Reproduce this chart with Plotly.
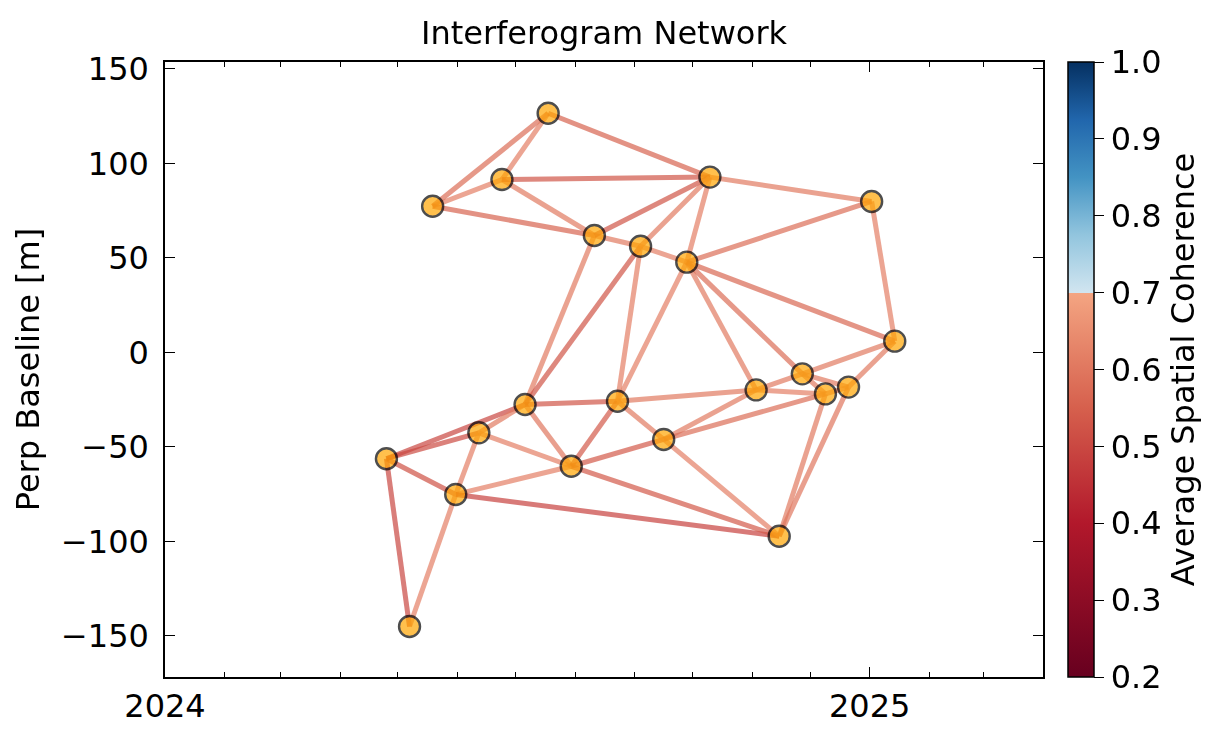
import plotly.graph_objects as go

# ---------------- data ----------------
dates = ["2024-04-25", "2024-05-07", "2024-05-19", "2024-05-31", "2024-06-12",
         "2024-06-24", "2024-07-06", "2024-07-18", "2024-07-30", "2024-08-11",
         "2024-08-23", "2024-09-04", "2024-09-16", "2024-09-28", "2024-10-10",
         "2024-11-03", "2024-11-15", "2024-11-27", "2024-12-09", "2024-12-21",
         "2025-01-02", "2025-01-14"]
pbase = [-56.2, -145.0, 77.4, -75.1, -42.5,
         91.5, -27.5, 126.6, -60.2, 61.9,
         -25.8, 56.2, -46.0, 47.8, 92.8,
         -19.8, -97.2, -11.3, -21.9, -18.3,
         79.9, 6.0]

# interferogram pairs (reference date, secondary date)
pair_ref = ["2024-04-25", "2024-04-25", "2024-04-25", "2024-04-25", "2024-05-07",
            "2024-05-19", "2024-05-19", "2024-05-19", "2024-05-31", "2024-05-31",
            "2024-05-31", "2024-06-12", "2024-06-12", "2024-06-24", "2024-06-24",
            "2024-06-24", "2024-07-06", "2024-07-06", "2024-07-06", "2024-07-06",
            "2024-07-18", "2024-07-30", "2024-07-30", "2024-07-30", "2024-08-11",
            "2024-08-11", "2024-08-23", "2024-08-23", "2024-08-23", "2024-08-23",
            "2024-09-04", "2024-09-04", "2024-09-16", "2024-09-16", "2024-09-16",
            "2024-09-28", "2024-09-28", "2024-09-28", "2024-09-28", "2024-09-28",
            "2024-10-10", "2024-11-03", "2024-11-03", "2024-11-15", "2024-11-15",
            "2024-11-27", "2024-11-27", "2024-11-27", "2024-12-09", "2024-12-21",
            "2025-01-02"]
pair_sec = ["2024-05-07", "2024-05-31", "2024-06-12", "2024-07-06", "2024-05-31",
            "2024-06-24", "2024-07-18", "2024-08-11", "2024-06-12", "2024-07-30",
            "2024-11-15", "2024-07-06", "2024-07-30", "2024-07-18", "2024-08-11",
            "2024-10-10", "2024-07-30", "2024-08-11", "2024-08-23", "2024-09-04",
            "2024-10-10", "2024-08-23", "2024-09-16", "2024-11-15", "2024-09-04",
            "2024-10-10", "2024-09-04", "2024-09-16", "2024-09-28", "2024-11-03",
            "2024-09-28", "2024-10-10", "2024-11-03", "2024-11-15", "2024-12-09",
            "2024-10-10", "2024-11-03", "2024-11-27", "2025-01-02", "2025-01-14",
            "2025-01-02", "2024-11-27", "2024-12-09", "2024-12-09", "2024-12-21",
            "2024-12-09", "2024-12-21", "2025-01-14", "2024-12-21", "2025-01-14",
            "2025-01-14"]
pair_coh = [0.50, 0.52, 0.51, 0.50, 0.62,
            0.62, 0.58, 0.56, 0.62, 0.62,
            0.49, 0.61, 0.62, 0.62, 0.61,
            0.53, 0.60, 0.61, 0.53, 0.53,
            0.56, 0.54, 0.54, 0.54, 0.61,
            0.53, 0.62, 0.61, 0.62, 0.61,
            0.62, 0.61, 0.61, 0.62, 0.58,
            0.62, 0.61, 0.58, 0.58, 0.57,
            0.61, 0.61, 0.62, 0.61, 0.60,
            0.61, 0.61, 0.61, 0.61, 0.61,
            0.62]

clim = [0.2, 1.0]
cbar_ticks = [0.2, 0.3, 0.4, 0.5, 0.6, 0.7, 0.8, 0.9, 1.0]
y_ticks = [-150, -100, -50, 0, 50, 100, 150]
x_ticks = ["2024-01-01", "2025-01-01"]
x_ticklabels = ["2024", "2025"]

# truncated RdBu colormap (white centre removed)
cscale = [
    [0.0, "rgb(103,0,31)"],
    [0.25, "rgb(178,24,43)"],
    [0.4375, "rgb(214,96,77)"],
    [0.625, "rgb(244,165,130)"],
    [0.625, "rgb(209,229,240)"],
    [0.71875, "rgb(146,197,222)"],
    [0.8125, "rgb(67,147,195)"],
    [0.90625, "rgb(33,102,172)"],
    [1.0, "rgb(5,48,97)"],
]


def cmap(v):
    p = (v - clim[0]) / (clim[1] - clim[0])
    p = min(max(p, 0.0), 1.0)
    stops = [(s, tuple(int(c) for c in col[4:-1].split(","))) for s, col in cscale]
    for (s0, c0), (s1, c1) in zip(stops[:-1], stops[1:]):
        if s0 <= p <= s1 and s1 > s0:
            t = (p - s0) / (s1 - s0)
            c = [round(a + (b - a) * t) for a, b in zip(c0, c1)]
            return "rgb({},{},{})".format(*c)
    return cscale[-1][1]


bmap = dict(zip(dates, pbase))
FONT = "DejaVu Sans"
FS = 32

fig = go.Figure()
for r, s, c in zip(pair_ref, pair_sec, pair_coh):
    fig.add_trace(go.Scatter(
        x=[r, s], y=[bmap[r], bmap[s]], mode="lines",
        line=dict(color=cmap(c), width=5), opacity=0.7,
        hoverinfo="skip", showlegend=False))

fig.add_trace(go.Scatter(
    x=dates, y=pbase, mode="markers", opacity=0.7, showlegend=False,
    marker=dict(color="orange", size=21, line=dict(color="black", width=2.4))))

# colorbar carrier
fig.add_trace(go.Scatter(
    x=[dates[0]], y=[pbase[0]], mode="markers", showlegend=False, hoverinfo="skip",
    marker=dict(size=0.001, color=[clim[0]], cmin=clim[0], cmax=clim[1],
                colorscale=cscale, showscale=True,
                colorbar=dict(
                    x=1.0285, xanchor="left", xpad=0, y=0.5, yanchor="middle",
                    len=1.0, lenmode="fraction", ypad=0,
                    thickness=26, thicknessmode="pixels",
                    outlinewidth=1.5, outlinecolor="black",
                    tickvals=cbar_ticks, tickformat=".1f",
                    ticks="outside", ticklen=10, tickwidth=1.3, tickcolor="black",
                    tickfont=dict(family=FONT, size=FS, color="black"),
                    title=dict(text="Average Spatial Coherence", side="right",
                               font=dict(family=FONT, size=FS, color="black")),
                ))))

fig.update_layout(
    width=1231, height=741,
    margin=dict(l=157, r=196, t=54, b=72),
    paper_bgcolor="white", plot_bgcolor="white",
    title=dict(text="Interferogram Network", xref="paper", x=0.5, xanchor="center",
               yref="container", y=1 - 25 / 741, yanchor="middle",
               font=dict(family=FONT, size=FS, color="black")),
    font=dict(family=FONT, color="black"),
)
fig.update_xaxes(
    type="date", range=["2024-01-01", "2025-04-01"],
    tickvals=x_ticks, ticktext=x_ticklabels,
    ticks="inside", ticklen=10, tickwidth=1.4, tickcolor="black",
    minor=dict(dtick="M1", tick0="2024-01-01", ticks="inside", ticklen=5,
               tickwidth=1, tickcolor="black", showgrid=False),
    showline=True, linecolor="black", linewidth=1.5, mirror="ticks",
    showgrid=False, zeroline=False,
    tickfont=dict(family=FONT, size=FS, color="black"),
)
fig.update_yaxes(
    range=[-171.7, 153.7], tickvals=y_ticks,
    ticks="inside", ticklen=10, tickwidth=1.4, tickcolor="black",
    ticklabelstandoff=8,
    showline=True, linecolor="black", linewidth=1.5, mirror="ticks",
    showgrid=False, zeroline=False,
    title=dict(text="Perp Baseline [m]", standoff=12,
               font=dict(family=FONT, size=FS, color="black")),
    tickfont=dict(family=FONT, size=FS, color="black"),
)

fig.write_html("out.html")
